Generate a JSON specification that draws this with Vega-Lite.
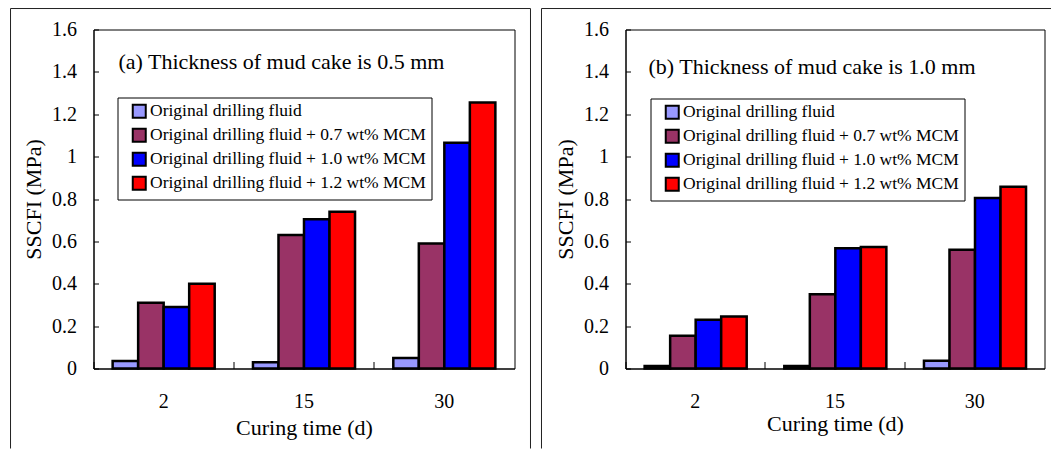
{
  "$schema": "https://vega.github.io/schema/vega-lite/v6.json",
  "padding": {"left": 9.5, "top": 7.5, "right": 0, "bottom": 0},
  "background": "white",
  "spacing": 8,
  "config": {
    "font": "Liberation Serif",
    "view": {"stroke": "black", "strokeWidth": 1},
    "axis": {
      "labelColor": "black", "titleColor": "black", "domainColor": "black", "tickColor": "black",
      "labelFont": "Liberation Serif", "titleFont": "Liberation Serif",
      "labelFontSize": 20, "titleFontSize": 22, "titleFontWeight": "normal",
      "grid": false, "labelFlush": false, "labelOverlap": false
    },
    "legend": {
      "title": null, "orient": "none",
      "strokeColor": "black", "fillColor": "white", "padding": 5,
      "symbolType": "square", "symbolSize": 169, "symbolStrokeColor": "black", "symbolStrokeWidth": 2, "symbolOpacity": 1,
      "labelFont": "Liberation Serif", "labelFontSize": 17.5, "labelColor": "black", "labelLimit": 400,
      "rowPadding": 2, "labelOffset": 2, "symbolOffset": 8
    },
    "title": {"font": "Liberation Serif", "fontSize": 22, "fontWeight": "normal", "color": "black"}
  },
  "datasets": {
    "ssc": [
      {"panel": "a", "time": "2", "fluid": "Original drilling fluid", "value": 0.035},
      {"panel": "a", "time": "2", "fluid": "Original drilling fluid + 0.7 wt% MCM", "value": 0.31},
      {"panel": "a", "time": "2", "fluid": "Original drilling fluid + 1.0 wt% MCM", "value": 0.29},
      {"panel": "a", "time": "2", "fluid": "Original drilling fluid + 1.2 wt% MCM", "value": 0.40},
      {"panel": "a", "time": "15", "fluid": "Original drilling fluid", "value": 0.03},
      {"panel": "a", "time": "15", "fluid": "Original drilling fluid + 0.7 wt% MCM", "value": 0.63},
      {"panel": "a", "time": "15", "fluid": "Original drilling fluid + 1.0 wt% MCM", "value": 0.705},
      {"panel": "a", "time": "15", "fluid": "Original drilling fluid + 1.2 wt% MCM", "value": 0.74},
      {"panel": "a", "time": "30", "fluid": "Original drilling fluid", "value": 0.05},
      {"panel": "a", "time": "30", "fluid": "Original drilling fluid + 0.7 wt% MCM", "value": 0.59},
      {"panel": "a", "time": "30", "fluid": "Original drilling fluid + 1.0 wt% MCM", "value": 1.065},
      {"panel": "a", "time": "30", "fluid": "Original drilling fluid + 1.2 wt% MCM", "value": 1.255},
      {"panel": "b", "time": "2", "fluid": "Original drilling fluid", "value": 0.012},
      {"panel": "b", "time": "2", "fluid": "Original drilling fluid + 0.7 wt% MCM", "value": 0.155},
      {"panel": "b", "time": "2", "fluid": "Original drilling fluid + 1.0 wt% MCM", "value": 0.23},
      {"panel": "b", "time": "2", "fluid": "Original drilling fluid + 1.2 wt% MCM", "value": 0.245},
      {"panel": "b", "time": "15", "fluid": "Original drilling fluid", "value": 0.012},
      {"panel": "b", "time": "15", "fluid": "Original drilling fluid + 0.7 wt% MCM", "value": 0.35},
      {"panel": "b", "time": "15", "fluid": "Original drilling fluid + 1.0 wt% MCM", "value": 0.567},
      {"panel": "b", "time": "15", "fluid": "Original drilling fluid + 1.2 wt% MCM", "value": 0.574},
      {"panel": "b", "time": "30", "fluid": "Original drilling fluid", "value": 0.037},
      {"panel": "b", "time": "30", "fluid": "Original drilling fluid + 0.7 wt% MCM", "value": 0.56},
      {"panel": "b", "time": "30", "fluid": "Original drilling fluid + 1.0 wt% MCM", "value": 0.805},
      {"panel": "b", "time": "30", "fluid": "Original drilling fluid + 1.2 wt% MCM", "value": 0.858}
    ]
  },
  "hconcat": [
    {
      "width": 421,
      "height": 339,
      "title": {"text": "(a) Thickness of mud cake is 0.5 mm", "anchor": "start", "frame": "group", "dx": 25, "offset": -83, "baseline": "alphabetic"},
      "layer": [
        {
          "data": {"name": "ssc"},
          "transform": [{"filter": "datum.panel === 'a'"}],
          "mark": {"type": "bar", "stroke": "black", "strokeWidth": 2.5},
          "encoding": {
            "x": {"field": "time", "type": "ordinal", "sort": ["2", "15", "30"],
              "scale": {"paddingInner": 0, "paddingOuter": 0},
              "axis": {"title": "Curing time (d)", "bandPosition": 0, "tickSize": -7, "tickWidth": 1, "labelPadding": 30, "labelAngle": 0, "titlePadding": 6}},
            "xOffset": {"field": "fluid", "type": "nominal",
              "sort": ["Original drilling fluid", "Original drilling fluid + 0.7 wt% MCM", "Original drilling fluid + 1.0 wt% MCM", "Original drilling fluid + 1.2 wt% MCM"],
              "scale": {"paddingInner": 0, "paddingOuter": 0.75}},
            "y": {"field": "value", "type": "quantitative", "scale": {"domain": [0, 1.6], "nice": false},
              "axis": {"title": "SSCFI (MPa)", "values": [0, 0.2, 0.4, 0.6, 0.8, 1, 1.2, 1.4, 1.6], "format": "~g", "tickSize": -5, "labelPadding": 22, "titlePadding": 6}},
            "color": {"field": "fluid", "type": "nominal",
              "scale": {"domain": ["Original drilling fluid", "Original drilling fluid + 0.7 wt% MCM", "Original drilling fluid + 1.0 wt% MCM", "Original drilling fluid + 1.2 wt% MCM"],
                "range": ["#9999FF", "#993366", "#0000FF", "#FF0000"]},
              "legend": {"legendX": 24, "legendY": 68}}
          }
        },
        {
          "data": {"values": [{}]},
          "mark": {"type": "rule", "color": "#222222", "strokeWidth": 1},
          "encoding": {
            "x": {"datum": -0.1971, "type": "quantitative", "scale": {"domain": [0, 1]}, "axis": null},
            "y": {"datum": 1.0619, "type": "quantitative", "scale": {"domain": [0, 1]}, "axis": null},
            "y2": {"datum": -0.236}
          }
        },
        {
          "data": {"values": [{}]},
          "mark": {"type": "rule", "color": "#222222", "strokeWidth": 1},
          "encoding": {
            "x": {"datum": -0.1971, "type": "quantitative", "scale": {"domain": [0, 1]}, "axis": null},
            "x2": {"datum": 1.038},
            "y": {"datum": 1.0619, "type": "quantitative", "scale": {"domain": [0, 1]}, "axis": null}
          }
        },
        {
          "data": {"values": [{}]},
          "mark": {"type": "rule", "color": "#222222", "strokeWidth": 1},
          "encoding": {
            "x": {"datum": 1.038, "type": "quantitative", "scale": {"domain": [0, 1]}, "axis": null},
            "y": {"datum": 1.0619, "type": "quantitative", "scale": {"domain": [0, 1]}, "axis": null},
            "y2": {"datum": -0.236}
          }
        }
      ],
      "resolve": {"scale": {"x": "independent", "y": "independent"}}
    },
    {
      "width": 419,
      "height": 339,
      "title": {"text": "(b) Thickness of mud cake is 1.0 mm", "anchor": "start", "frame": "group", "dx": 23, "offset": -88, "baseline": "alphabetic"},
      "layer": [
        {
          "data": {"name": "ssc"},
          "transform": [{"filter": "datum.panel === 'b'"}],
          "mark": {"type": "bar", "stroke": "black", "strokeWidth": 2.5},
          "encoding": {
            "x": {"field": "time", "type": "ordinal", "sort": ["2", "15", "30"],
              "scale": {"paddingInner": 0, "paddingOuter": 0},
              "axis": {"title": "Curing time (d)", "bandPosition": 0, "tickSize": -7, "tickWidth": 1, "labelPadding": 30, "labelAngle": 0, "titlePadding": 2}},
            "xOffset": {"field": "fluid", "type": "nominal",
              "sort": ["Original drilling fluid", "Original drilling fluid + 0.7 wt% MCM", "Original drilling fluid + 1.0 wt% MCM", "Original drilling fluid + 1.2 wt% MCM"],
              "scale": {"paddingInner": 0, "paddingOuter": 0.75}},
            "y": {"field": "value", "type": "quantitative", "scale": {"domain": [0, 1.6], "nice": false},
              "axis": {"title": "SSCFI (MPa)", "values": [0, 0.2, 0.4, 0.6, 0.8, 1, 1.2, 1.4, 1.6], "format": "~g", "tickSize": -5, "labelPadding": 22, "titlePadding": 6}},
            "color": {"field": "fluid", "type": "nominal",
              "scale": {"domain": ["Original drilling fluid", "Original drilling fluid + 0.7 wt% MCM", "Original drilling fluid + 1.0 wt% MCM", "Original drilling fluid + 1.2 wt% MCM"],
                "range": ["#9999FF", "#993366", "#0000FF", "#FF0000"]},
              "legend": {"legendX": 25, "legendY": 69}}
          }
        },
        {
          "data": {"values": [{}]},
          "mark": {"type": "rule", "color": "#222222", "strokeWidth": 1},
          "encoding": {
            "x": {"datum": -0.2005, "type": "quantitative", "scale": {"domain": [0, 1]}, "axis": null},
            "y": {"datum": 1.0619, "type": "quantitative", "scale": {"domain": [0, 1]}, "axis": null},
            "y2": {"datum": -0.236}
          }
        },
        {
          "data": {"values": [{}]},
          "mark": {"type": "rule", "color": "#222222", "strokeWidth": 1},
          "encoding": {
            "x": {"datum": -0.2005, "type": "quantitative", "scale": {"domain": [0, 1]}, "axis": null},
            "x2": {"datum": 1.0215},
            "y": {"datum": 1.0619, "type": "quantitative", "scale": {"domain": [0, 1]}, "axis": null}
          }
        }
      ],
      "resolve": {"scale": {"x": "independent", "y": "independent"}}
    }
  ],
  "resolve": {"legend": {"color": "independent"}}
}
